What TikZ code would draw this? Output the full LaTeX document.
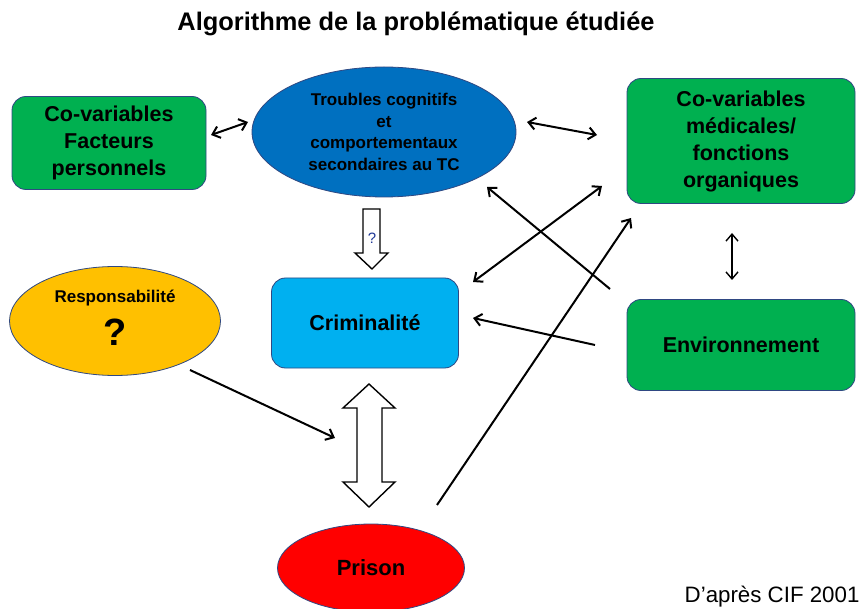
\documentclass[tikz,border=0pt]{standalone}
\usepackage{fontspec}
\setmainfont{Liberation Sans}
\usetikzlibrary{shapes.geometric,arrows.meta}
\definecolor{vert}{RGB}{0,176,80}
\definecolor{bleu}{RGB}{0,112,192}
\definecolor{bleuclair}{RGB}{0,176,240}
\definecolor{orange}{RGB}{255,192,0}
\definecolor{rouge}{RGB}{255,0,0}
\definecolor{bord}{RGB}{47,72,130}
\definecolor{bleuq}{RGB}{31,56,150}
\tikzset{
	boite/.style={draw=bord, line width=0.8pt, rounded corners=14pt, align=center,
		font=\fontsize{21.5}{27}\selectfont\bfseries, inner sep=0pt},
	bulle/.style={ellipse, draw=bord, line width=0.8pt, align=center, inner sep=0pt},
	fleche/.style={line width=2pt, >={Straight Barb[length=7pt,width=12pt]}},
	bloc/.style={draw=black, line width=1.4pt, fill=white, line join=miter}
}
\begin{document}
\begin{tikzpicture}[x=1pt,y=-1pt]
	\useasboundingbox (0,0) rectangle (864,609);
	% Titre
	\node[font=\fontsize{25.4}{30}\selectfont\bfseries] (titre) at (416,24) {Algorithme de la problématique étudiée};
	% Boites vertes
	\node[boite, fill=vert, minimum width=194pt, minimum height=93pt] (perso) at (109,143)
		{Co-variables\\Facteurs\\personnels};
	\node[boite, fill=vert, minimum width=228pt, minimum height=125pt] (medic) at (741,141)
		{Co-variables\\médicales/\\fonctions\\organiques};
	\node[boite, fill=vert, minimum width=228pt, minimum height=91pt] (envir) at (741,345)
		{Environnement};
	% Criminalite
	\node[boite, fill=bleuclair, minimum width=187pt, minimum height=90pt] (crim) at (365,323)
		{Criminalité};
	% Ellipses
	\node[bulle, fill=bleu, minimum width=264pt, minimum height=130pt,
		font=\fontsize{17}{21.6}\selectfont\bfseries] (troubles) at (384,132)
		{Troubles cognitifs\\et\\comportementaux\\secondaires au TC};
	\node[bulle, fill=orange, minimum width=211pt, minimum height=109pt] (resp) at (115,321) {};
	\node[font=\fontsize{17}{21}\selectfont\bfseries] (resplab) at (115,298) {Responsabilité};
	\node[font=\fontsize{38}{40}\selectfont\bfseries] (respq) at (115,332) {?};
	\node[bulle, fill=rouge, minimum width=187pt, minimum height=88pt,
		font=\fontsize{22}{27}\selectfont\bfseries] (prison) at (371,568) {Prison};
	% Fleche creuse vers le bas
	\draw[bloc] (363,209) -- (380,209) -- (380,253) -- (388,253) -- (372,269)
		-- (355,253) -- (363,253) -- cycle;
	\node[text=bleuq, font=\fontsize{15}{18}\selectfont] (q) at (372,238) {?};
	% Double fleche creuse
	\draw[bloc] (369,384) -- (395,408) -- (382,408) -- (382,482) -- (395,482)
		-- (369,507) -- (343,482) -- (357,482) -- (357,408) -- (343,408) -- cycle;
	% Fleches fines
	\coordinate (p1) at (211,135); \coordinate (t1) at (248,122);
	\draw[fleche,<->] (p1) -- (t1);
	\coordinate (t2) at (527,122); \coordinate (m1) at (597,135);
	\draw[fleche,<->] (t2) -- (m1);
	\coordinate (e1) at (610,289); \coordinate (t3) at (487,187);
	\draw[fleche,->] (e1) -- (t3);
	\coordinate (c1) at (473,282); \coordinate (m2) at (602,186);
	\draw[fleche,<->] (c1) -- (m2);
	\coordinate (e2) at (595,345); \coordinate (c2) at (473,318);
	\draw[fleche,->] (e2) -- (c2);
	\coordinate (pr1) at (437,505); \coordinate (m3) at (631,218);
	\draw[fleche,->] (pr1) -- (m3);
	\coordinate (m4) at (732,233); \coordinate (e3) at (732,280);
	\draw[fleche,<->, line width=1.4pt] (m4) -- (e3);
	\coordinate (r1) at (190,370); \coordinate (d1) at (335,438);
	\draw[fleche,->] (r1) -- (d1);
	% Source
	\node[font=\fontsize{22.3}{26}\selectfont, anchor=east] (source) at (863,597) {D’après CIF 2001};
\end{tikzpicture}
\end{document}
